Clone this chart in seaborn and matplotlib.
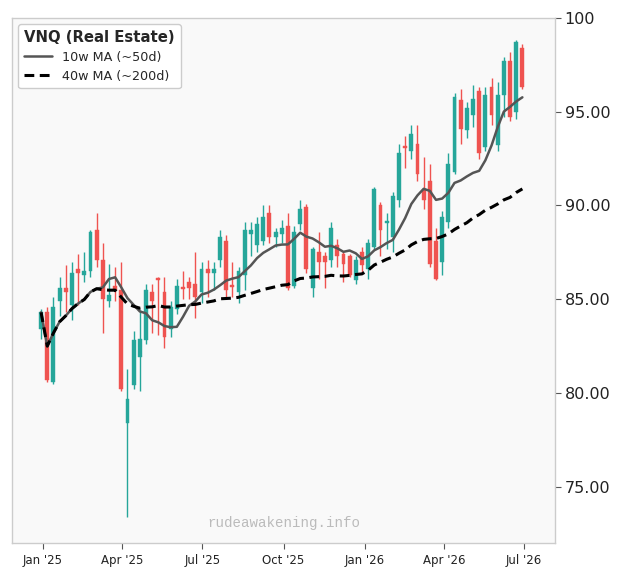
import numpy as np
import pandas as pd
import matplotlib
matplotlib.use("Agg")
import matplotlib.pyplot as plt
import seaborn as sns

# ---- data (weekly OHLC) ----
start_date = "2024-12-30"
opens = [83.4, 84.3, 80.6, 84.9, 85.6, 84.7, 86.6, 86.3, 86.5, 88.7,
         87.1, 84.9, 85.7, 85.5, 78.4, 80.4, 81.9, 82.8, 85.4, 86.1,
         85.4, 83.4, 84.5, 85.65, 85.9, 85.8, 85.4, 86.6, 86.4, 87.1,
         88.1, 85.75, 85.4, 86.3, 88.5, 87.9, 88.1, 89.6, 88.3, 88.5,
         88.9, 85.7, 89.0, 89.9, 85.6, 87.5, 87.3, 87.1, 87.9, 87.4,
         87.3, 86.0, 87.5, 86.6, 87.8, 90.0, 89.05, 88.3, 90.3, 93.15,
         92.9, 93.3, 90.8, 91.3, 88.1, 87.0, 89.1, 91.8, 95.6, 94.0,
         94.8, 96.1, 93.1, 96.3, 93.2, 95.9, 97.7, 95.0, 98.4]
highs = [84.5, 84.6, 85.1, 86.2, 86.8, 87.0, 87.4, 87.5, 88.7, 89.6,
         88.0, 86.9, 86.7, 87.0, 81.3, 83.3, 84.4, 85.8, 85.8, 86.2,
         86.2, 84.9, 86.1, 86.5, 86.2, 87.5, 87.0, 87.1, 87.0, 88.7,
         88.4, 87.0, 86.7, 89.1, 89.1, 89.4, 90.0, 90.0, 88.8, 89.2,
         89.6, 88.9, 90.3, 90.1, 87.8, 88.6, 87.5, 89.1, 88.2, 87.5,
         87.4, 87.3, 87.8, 88.2, 91.0, 90.2, 89.6, 90.7, 93.3, 93.7,
         94.3, 94.3, 92.6, 92.2, 88.8, 89.7, 92.8, 96.0, 96.2, 95.5,
         96.4, 96.3, 96.3, 96.8, 96.6, 97.9, 98.2, 98.8, 98.6]
lows = [82.9, 80.6, 80.5, 84.1, 84.3, 83.9, 84.7, 85.9, 86.2, 86.7,
        83.2, 84.6, 84.9, 80.1, 73.4, 80.2, 80.1, 82.6, 83.2, 83.1,
        82.4, 83.0, 84.2, 85.0, 85.0, 84.0, 84.8, 85.1, 85.5, 86.7,
        85.0, 85.1, 84.8, 85.5, 87.3, 87.5, 87.9, 88.0, 87.8, 88.0,
        85.5, 85.6, 88.7, 86.4, 85.1, 86.1, 85.6, 86.7, 86.7, 85.9,
        86.2, 85.8, 86.4, 86.1, 87.7, 87.3, 87.7, 87.5, 89.9, 92.0,
        92.5, 91.3, 89.8, 86.7, 86.0, 86.3, 88.8, 91.7, 93.3, 93.6,
        94.2, 92.5, 92.9, 94.3, 92.9, 94.7, 94.5, 94.6, 96.2]
closes = [84.3, 80.7, 84.6, 85.6, 85.4, 86.4, 86.4, 86.5, 88.6, 87.1,
          85.0, 85.2, 85.5, 80.2, 79.7, 82.8, 82.9, 85.5, 84.9, 86.0,
          83.0, 84.6, 85.7, 85.55, 85.6, 85.1, 86.6, 86.4, 86.6, 88.3,
          85.5, 85.65, 86.5, 88.7, 88.7, 89.0, 89.4, 88.3, 88.6, 88.8,
          85.6, 88.6, 89.8, 86.6, 87.7, 87.0, 87.0, 88.8, 87.3, 86.9,
          86.3, 87.1, 86.8, 88.0, 90.9, 88.7, 89.15, 90.5, 92.8, 93.05,
          93.8, 91.7, 90.3, 86.9, 86.1, 89.4, 92.2, 95.8, 94.1, 95.2,
          95.7, 92.8, 95.9, 94.8, 95.9, 97.7, 94.7, 98.7, 96.3]

ytick_values = [75, 80, 85, 90, 95, 100]
ytick_labels = ["75.00", "80.00", "85.00", "90.00", "95.00", "100"]
xtick_dates = ["2025-01-01", "2025-04-01", "2025-07-01", "2025-10-01",
               "2026-01-01", "2026-04-01", "2026-07-01"]
xtick_labels = ["Jan '25", "Apr '25", "Jul '25", "Oct '25",
                "Jan '26", "Apr '26", "Jul '26"]
title = "VNQ (Real Estate)"
ma_short_label = "10w MA (~50d)"
ma_long_label = "40w MA (~200d)"
watermark = "rudeawakening.info"

# ---- frame ----
dates = pd.date_range(start_date, periods=len(closes), freq="7D")
df = pd.DataFrame({"date": dates, "open": opens, "high": highs,
                   "low": lows, "close": closes})
df["ma10"] = df["close"].rolling(10, min_periods=1).mean()
df["ma40"] = df["close"].rolling(40, min_periods=1).mean()

sns.set_theme(style="white")
plt.rcParams["font.family"] = ["DejaVu Sans"]

fig = plt.figure(figsize=(6.24, 5.81), dpi=100)
ax = fig.add_axes([12 / 624, 1 - 543 / 581, (555 - 12) / 624, (543 - 18) / 581])
ax.set_facecolor("#f9f9f9")

up_col = "#26a69a"
dn_col = "#ef5350"
cols = [up_col if c >= o else dn_col for o, c in zip(df["open"], df["close"])]

ax.vlines(df["date"], df["low"], df["high"], colors=cols, linewidth=1.0, zorder=2)
body_bottom = np.minimum(df["open"], df["close"])
body_h = np.maximum(np.abs(df["close"] - df["open"]), 0.12)
ax.bar(df["date"], body_h, bottom=body_bottom, width=4.4, color=cols,
       edgecolor=cols, linewidth=0.3, zorder=3)

sns.lineplot(data=df, x="date", y="ma10", ax=ax, color="#555555",
             linewidth=1.8, label=ma_short_label, zorder=4)
sns.lineplot(data=df, x="date", y="ma40", ax=ax, color="black",
             linewidth=2.2, linestyle=(0, (3.2, 1.8)), label=ma_long_label, zorder=4)

ax.set_xlim(pd.Timestamp("2024-11-27"), pd.Timestamp("2026-08-05"))
ax.set_ylim(72, 100)

ax.yaxis.tick_right()
ax.set_yticks(ytick_values)
ax.set_yticklabels(ytick_labels, fontsize=11.5, color="#222222")
ax.set_xticks(pd.to_datetime(xtick_dates))
ax.set_xticklabels(xtick_labels, fontsize=8.5, color="#222222")
ax.tick_params(axis="y", which="both", right=True, left=False, length=4,
               width=0.8, color="#555555", pad=3)
ax.tick_params(axis="x", which="both", bottom=True, length=4, width=0.8,
               color="#555555", pad=4)
ax.set_xlabel("")
ax.set_ylabel("")

for s in ax.spines.values():
    s.set_color("#cccccc")
    s.set_linewidth(1.0)

leg = ax.legend(loc="upper left", title=title, fontsize=9.2,
                title_fontproperties={"weight": "bold", "size": 10.7},
                frameon=True, framealpha=1.0, facecolor="white",
                edgecolor="#cccccc", borderpad=0.45, handlelength=2.2,
                labelspacing=0.45)
leg._legend_box.align = "left"

ax.text(0.5, 0.038, watermark, transform=ax.transAxes, ha="center",
        va="center", fontsize=10.2, color="#bbbbbb", family="Liberation Mono",
        zorder=1)

fig.savefig("out.png", dpi=100)
